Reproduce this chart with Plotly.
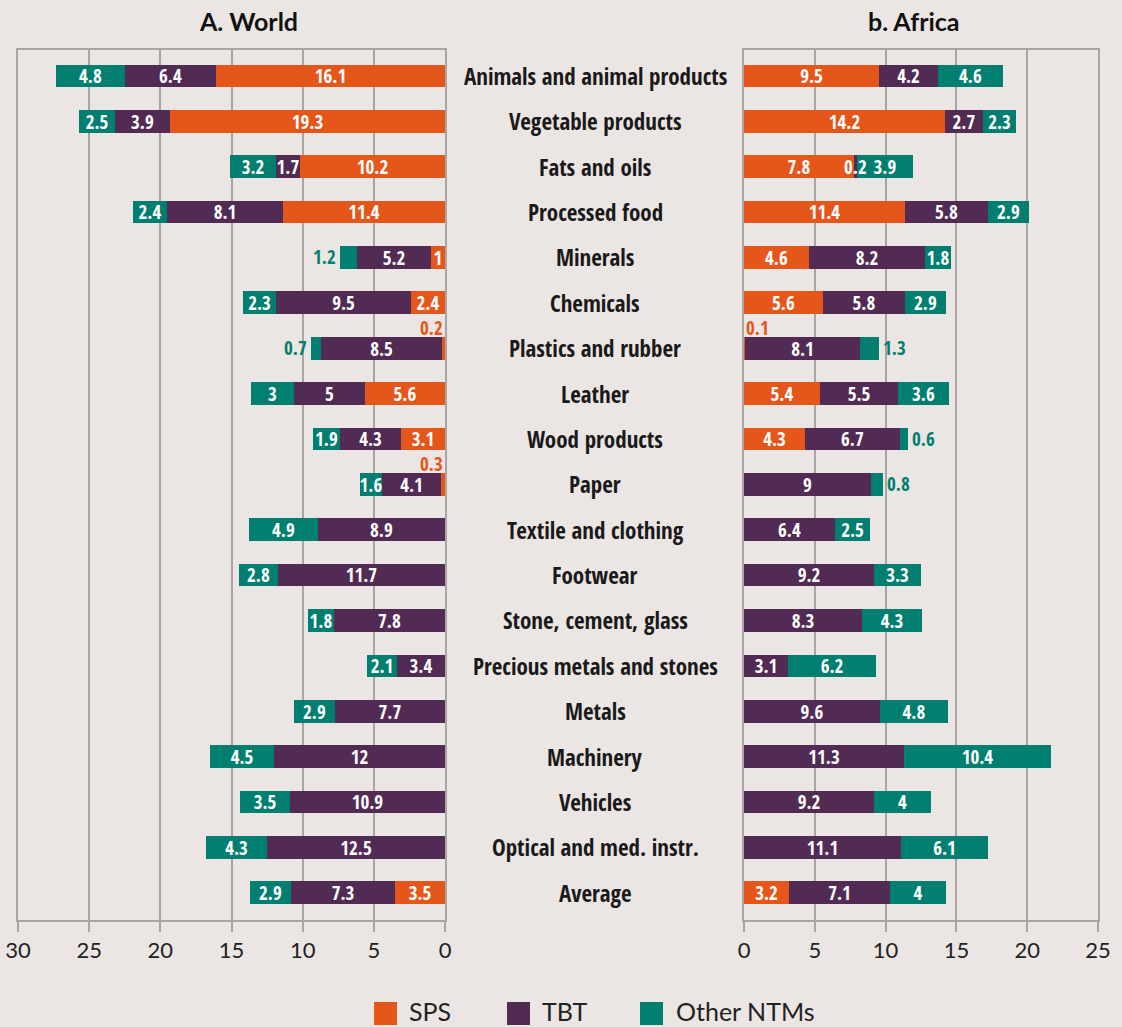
import plotly.graph_objects as go

categories = ["Animals and animal products", "Vegetable products", "Fats and oils", "Processed food",
              "Minerals", "Chemicals", "Plastics and rubber", "Leather", "Wood products", "Paper",
              "Textile and clothing", "Footwear", "Stone, cement, glass", "Precious metals and stones",
              "Metals", "Machinery", "Vehicles", "Optical and med. instr.", "Average"]

world_sps = [16.1, 19.3, 10.2, 11.4, 1, 2.4, 0.2, 5.6, 3.1, 0.3, 0, 0, 0, 0, 0, 0, 0, 0, 3.5]
world_tbt = [6.4, 3.9, 1.7, 8.1, 5.2, 9.5, 8.5, 5, 4.3, 4.1, 8.9, 11.7, 7.8, 3.4, 7.7, 12, 10.9, 12.5, 7.3]
world_oth = [4.8, 2.5, 3.2, 2.4, 1.2, 2.3, 0.7, 3, 1.9, 1.6, 4.9, 2.8, 1.8, 2.1, 2.9, 4.5, 3.5, 4.3, 2.9]

africa_sps = [9.5, 14.2, 7.8, 11.4, 4.6, 5.6, 0.1, 5.4, 4.3, 0, 0, 0, 0, 0, 0, 0, 0, 0, 3.2]
africa_tbt = [4.2, 2.7, 0.2, 5.8, 8.2, 5.8, 8.1, 5.5, 6.7, 9, 6.4, 9.2, 8.3, 3.1, 9.6, 11.3, 9.2, 11.1, 7.1]
africa_oth = [4.6, 2.3, 3.9, 2.9, 1.8, 2.9, 1.3, 3.6, 0.6, 0.8, 2.5, 3.3, 4.3, 6.2, 4.8, 10.4, 4, 6.1, 4]

series_names = ["SPS", "TBT", "Other NTMs"]
colors = ["#E5561A", "#512B53", "#007F70"]
x_ticks = [0, 5, 10, 15, 20, 25, 30]

# labels placed specially: (panel, category index, series index) -> placement
special = {("w", 4, 2): "left", ("w", 6, 2): "left", ("w", 6, 0): "above",
           ("w", 9, 0): "above", ("a", 6, 0): "above", ("a", 6, 2): "right",
           ("a", 8, 2): "right", ("a", 9, 2): "right", ("a", 2, 1): "overlay"}

BG = "#EBE6E3"
GRID = "#A8A5A2"
COND = "Open Sans Condensed, Roboto Condensed, sans-serif"
LATO = "Lato, sans-serif"
W, H = 1122, 1027

fig = go.Figure()


def label_text(panel, vals, si):
    out = []
    for ci, v in enumerate(vals):
        if v <= 0 or (panel, ci, si) in special:
            out.append("")
        else:
            out.append(f"{v:g}")
    return out


panels = [("w", [world_sps, world_tbt, world_oth], "x", "y"),
          ("a", [africa_sps, africa_tbt, africa_oth], "x2", "y2")]

for panel, data, xa, ya in panels:
    for si, vals in enumerate(data):
        fig.add_trace(go.Bar(
            y=categories, x=vals, orientation="h", name=series_names[si],
            marker=dict(color=colors[si], line=dict(width=0)),
            width=0.5, text=label_text(panel, vals, si), textposition="inside",
            insidetextanchor="middle", constraintext="none", textangle=0,
            textfont=dict(family=COND, size=19, color="white", weight="bold"),
            xaxis=xa, yaxis=ya, showlegend=False, hoverinfo="skip"))

# specially placed labels
for panel, data, xa, ya in panels:
    for (p, ci, si), place in special.items():
        if p != panel:
            continue
        v = data[si][ci]
        start = sum(d[ci] for d in data[:si])
        end = start + v
        col = "white" if place == "overlay" else colors[si]
        kw = dict(text=f"{v:g}", xref=xa, yref=ya, y=categories[ci], showarrow=False, yanchor="middle",
                  font=dict(family=COND, size=19, color=col, weight="bold"))
        if place == "above":
            fig.add_annotation(x=0, xanchor="right" if panel == "w" else "left", yshift=20, **kw)
        elif place == "left":
            fig.add_annotation(x=end, xanchor="right", xshift=-2, **kw)
        elif place == "right":
            fig.add_annotation(x=end, xanchor="left", xshift=2, **kw)
        else:
            fig.add_annotation(x=(start + end) / 2, xanchor="center", **kw)

# category labels in the middle column
for c in categories:
    fig.add_annotation(text=c, x=595 / W, xref="paper", y=c, yref="y", showarrow=False,
                       xanchor="center", yanchor="middle",
                       font=dict(family=COND, size=23, color="#1a1a1a", weight="bold"))

# panel titles
for txt, cx in [("A. World", 248), ("b. Africa", 914)]:
    fig.add_annotation(text=txt, x=cx / W, y=1 - 21 / H, xref="paper", yref="paper", showarrow=False,
                       xanchor="center", yanchor="middle",
                       font=dict(family=LATO, size=25, color="#111", weight="bold"))

# legend drawn as squares + text
leg_x = [374, 507, 640]
leg_tx = [407, 540, 674]
for si, name in enumerate(series_names):
    x0 = leg_x[si]
    fig.add_shape(type="rect", xref="paper", yref="paper", x0=x0 / W, x1=(x0 + 23) / W,
                  y0=1 - 1025 / H, y1=1 - 1002 / H, fillcolor=colors[si], line=dict(width=0))
    fig.add_annotation(text=name, x=leg_tx[si] / W, y=1 - 1011 / H, xref="paper", yref="paper",
                       showarrow=False, xanchor="left", yanchor="middle",
                       font=dict(family=LATO, size=25, color="#222"))

ydom = [1 - 920 / H, 1 - 50 / H]
yrange = [18.6, -0.57]
axis_common = dict(showgrid=True, gridcolor=GRID, gridwidth=1.5, showline=True, linecolor=GRID,
                   linewidth=1.5, mirror=True, ticks="outside", ticklen=10, tickcolor=GRID,
                   tickwidth=1.5, tickvals=x_ticks, zeroline=False, automargin=False,
                   tickfont=dict(family=LATO, size=22, color="#222"))
yaxis_common = dict(domain=ydom, range=yrange, showticklabels=False, showgrid=False,
                    showline=True, linecolor=GRID, linewidth=1.5, mirror=True, ticks="",
                    automargin=False, categoryorder="array", categoryarray=categories)

fig.update_layout(
    width=W, height=H, margin=dict(l=0, r=0, t=0, b=0),
    paper_bgcolor=BG, plot_bgcolor=BG, barmode="stack", bargap=0,
    xaxis=dict(domain=[18 / W, 445 / W], range=[30, 0], anchor="y", **axis_common),
    xaxis2=dict(domain=[744 / W, 1098 / W], range=[0, 25], anchor="y2", **axis_common),
    yaxis=dict(anchor="x", **yaxis_common),
    yaxis2=dict(anchor="x2", **yaxis_common),
)

fig.write_html("out.html", config={"displayModeBar": False},
               post_script="document.body.style.margin='0';document.body.style.overflow='hidden';")
